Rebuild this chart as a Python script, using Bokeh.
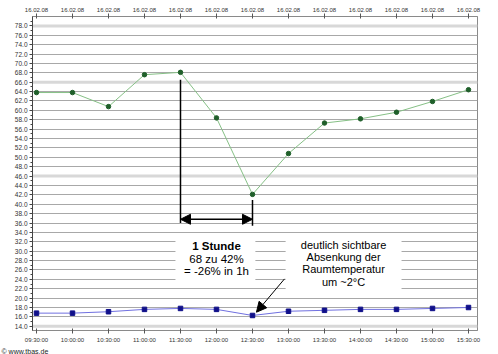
from bokeh.plotting import figure
from bokeh.models import (Range1d, FixedTicker, LinearAxis, PrintfTickFormatter, Label,
                          BoxAnnotation, Arrow, NormalHead, Span, Title)
from bokeh.embed import file_html
from bokeh.resources import INLINE

# ---- data ----
times = ["09:30:00", "10:00:00", "10:30:00", "11:00:00", "11:30:00", "12:00:00", "12:30:00",
         "13:00:00", "13:30:00", "14:00:00", "14:30:00", "15:00:00", "15:30:00"]
dates = ["16.02.08"] * len(times)
humidity = [63.8, 63.8, 60.8, 67.6, 68.1, 58.4, 42.1, 50.8, 57.3, 58.2, 59.6, 61.9, 64.4]
temperature = [16.8, 16.8, 17.1, 17.6, 17.8, 17.6, 16.3, 17.2, 17.4, 17.6, 17.6, 17.8, 18.0]
y_ticks = list(range(14, 79, 2))
light_lines = [78, 66, 46, 14]

idx = list(range(len(times)))
FONT = "Liberation Sans"

p = figure(width=498, height=354, output_backend="svg", toolbar_location=None,
           x_range=Range1d(-0.111, 12.25), y_range=Range1d(13.1, 80.0))
p.min_border_left = 32
p.min_border_right = 21
p.min_border_top = 16
p.min_border_bottom = 23
p.background_fill_color = "white"
p.border_fill_color = "white"
p.outline_line_color = "#8a8a8a"

# bottom axis
xa = p.xaxis[0]
xa.ticker = FixedTicker(ticks=idx)
xa.major_label_overrides = {i: t for i, t in enumerate(times)}
xa.minor_tick_line_color = None
xa.major_tick_in = 2
xa.major_tick_out = 3
xa.axis_line_color = "#8a8a8a"
xa.major_tick_line_color = "#555555"
xa.major_label_text_font = FONT
xa.major_label_text_font_size = "6px"
xa.major_label_text_color = "#333333"
xa.major_label_standoff = 3

# copyright line under the time axis
p.add_layout(Title(text="© www.tbas.de", align="left", offset=-31, standoff=0,
                   text_font=FONT, text_font_size="7px", text_font_style="normal",
                   text_color="#222222"), "below")

# top axis
ta = LinearAxis(ticker=FixedTicker(ticks=idx),
                major_label_overrides={i: d for i, d in enumerate(dates)})
ta.minor_tick_line_color = None
ta.major_tick_in = 2
ta.major_tick_out = 3
ta.axis_line_color = "#8a8a8a"
ta.major_tick_line_color = "#555555"
ta.major_label_text_font = FONT
ta.major_label_text_font_size = "6px"
ta.major_label_text_color = "#333333"
ta.major_label_standoff = 2
p.add_layout(ta, "above")

# left axis
ya = p.yaxis[0]
ya.ticker = FixedTicker(ticks=y_ticks, minor_ticks=list(range(13, 80)))
ya.formatter = PrintfTickFormatter(format="%.1f")
ya.major_tick_in = 0
ya.major_tick_out = 3
ya.minor_tick_in = 0
ya.minor_tick_out = 2
ya.axis_line_color = "#444444"
ya.major_tick_line_color = "#444444"
ya.minor_tick_line_color = "#444444"
ya.major_label_text_font = FONT
ya.major_label_text_font_size = "6.5px"
ya.major_label_text_color = "#333333"
ya.major_label_standoff = 2

p.xgrid.grid_line_color = None
p.ygrid.ticker = FixedTicker(ticks=y_ticks)
p.ygrid.grid_line_color = "#a8a8a8"
p.ygrid.grid_line_width = 1

for v in light_lines:
    p.add_layout(Span(location=v, dimension="width", line_color="#d8d8d8",
                      line_width=3, level="underlay"))

# series
p.line(idx, humidity, line_color="#86c086", line_width=1)
p.scatter(idx, humidity, marker="circle", size=4.5, fill_color="#1f5f2a", line_color="#1f5f2a")
p.line(idx, temperature, line_color="#7070e0", line_width=1)
p.scatter(idx, temperature, marker="square", size=4.5, fill_color="#10108a", line_color="#10108a")

# annotation geometry (data units)
v1_x, v1_y0, v1_y1 = 4, 66.5, 36.0
v2_x, v2_y0, v2_y1 = 6, 40.9, 35.4
arr_y = 36.8
p.segment(x0=[v1_x, v2_x], y0=[v1_y0, v2_y0], x1=[v1_x, v2_x], y1=[v1_y1, v2_y1],
          line_color="black", line_width=1.5)
p.add_layout(Arrow(start=NormalHead(size=10, fill_color="black", line_color="black"),
                   end=NormalHead(size=10, fill_color="black", line_color="black"),
                   x_start=v1_x, y_start=arr_y, x_end=v2_x, y_end=arr_y,
                   line_color="black", line_width=1.5))

p.add_layout(BoxAnnotation(left=3.86, right=6.08, bottom=23.0, top=33.5,
                           fill_color="white", fill_alpha=1.0, line_color=None))
p.add_layout(BoxAnnotation(left=6.92, right=10.14, bottom=21.3, top=33.5,
                           fill_color="white", fill_alpha=1.0, line_color=None))

box1_lines = ["1 Stunde", "68 zu 42%", "= -26% in 1h"]
box1_y = [31.0, 28.3, 25.7]
for i, (t, yy) in enumerate(zip(box1_lines, box1_y)):
    p.add_layout(Label(x=5.0, y=yy, text=t, text_align="center", text_baseline="middle",
                       text_font=FONT, text_font_size="11.5px", text_color="black",
                       text_font_style="bold" if i == 0 else "normal"))

box2_lines = ["deutlich sichtbare", "Absenkung der", "Raumtemperatur", "um ~2°C"]
box2_y = [31.3, 28.7, 26.2, 23.5]
for t, yy in zip(box2_lines, box2_y):
    p.add_layout(Label(x=8.53, y=yy, text=t, text_align="center", text_baseline="middle",
                       text_font=FONT, text_font_size="11px", text_color="black"))

p.add_layout(Arrow(end=NormalHead(size=10, fill_color="black", line_color="black"),
                   x_start=6.89, y_start=24.1, x_end=6.11, y_end=17.0,
                   line_color="black", line_width=1))

open("out.html", "w").write(file_html(p, INLINE))
